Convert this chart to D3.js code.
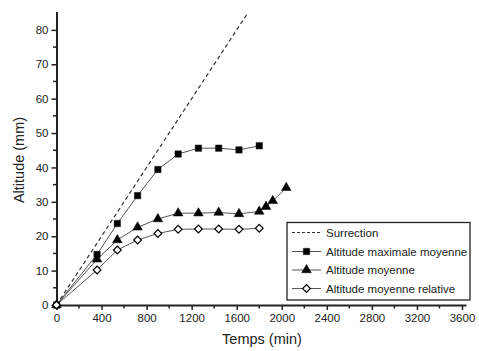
<!DOCTYPE html>
<html><head><meta charset="utf-8">
<script src="https://cdn.jsdelivr.net/npm/d3@7"></script>
<style>body{margin:0;background:#fff}svg{display:block}text{font-family:"Liberation Sans",Arial,sans-serif;fill:#222}</style>
</head><body><svg id="c" width="479" height="351"></svg>
<script>
const surrectionT = [0, 1700];
const surrectionZ = [0, 85];
const maxT = [0, 360, 540, 720, 900, 1080, 1260, 1440, 1620, 1800];
const maxZ = [0, 14.7, 23.7, 31.8, 39.4, 43.9, 45.6, 45.6, 45.1, 46.3];
const moyT = [0, 360, 540, 720, 900, 1080, 1260, 1440, 1620, 1800, 1860, 1920, 2040];
const moyZ = [0, 13.3, 18.9, 22.6, 25.0, 26.7, 26.7, 26.9, 26.5, 27.2, 28.6, 30.3, 34.1];
const relT = [0, 360, 540, 720, 900, 1080, 1260, 1440, 1620, 1800];
const relZ = [0, 10.2, 16.0, 18.9, 20.8, 22.0, 22.1, 22.1, 22.0, 22.3];
const xTicks = [0, 400, 800, 1200, 1600, 2000, 2400, 2800, 3200, 3600];
const yTicks = [0, 10, 20, 30, 40, 50, 60, 70, 80];
const legendLabels = ["Surrection", "Altitude maximale moyenne", "Altitude moyenne", "Altitude moyenne relative"];

const svg = d3.select("#c");
const x = d3.scaleLinear().domain([0, 3640]).range([56.5, 466.5]);
const y = d3.scaleLinear().domain([0, 85.2]).range([305, 12]);

svg.append("defs").append("clipPath").attr("id","clip").append("rect")
  .attr("x", 56).attr("y", 12).attr("width", 411).attr("height", 293);

const xAxis = d3.axisBottom(x).tickValues(xTicks).tickSize(5).tickPadding(4).tickFormat(d3.format("d"));
const yAxis = d3.axisLeft(y).tickValues(yTicks).tickSize(5).tickPadding(3);
const gx = svg.append("g").attr("transform", "translate(0,305)").call(xAxis);
const gy = svg.append("g").attr("transform", "translate(56.5,0)").call(yAxis);
svg.append("g").selectAll("line").data(d3.range(200, 3600, 400)).join("line")
  .attr("x1", d => x(d)).attr("x2", d => x(d)).attr("y1", 305).attr("y2", 308.5)
  .attr("stroke", "#222").attr("stroke-width", 1.5);
svg.append("g").selectAll("line").data(d3.range(5, 85, 10)).join("line")
  .attr("y1", d => y(d)).attr("y2", d => y(d)).attr("x1", 56.5).attr("x2", 53)
  .attr("stroke", "#222").attr("stroke-width", 1.5);
[gx, gy].forEach(a => {
  a.select(".domain").attr("stroke", "#222").attr("stroke-width", 2);
  a.selectAll(".tick line").attr("stroke", "#222").attr("stroke-width", 1.5);
  a.selectAll(".tick text").style("font-size", "11.5px").attr("fill", "#222");
});
gy.select(".domain").attr("d", `M0.5,${y(0)}V12`);
gx.select(".domain").attr("d", `M56.5,0.5H466.5`);

svg.append("text").attr("x", 262).attr("y", 344).attr("text-anchor", "middle")
  .style("font-size", "14.5px").text("Temps (min)");
svg.append("text").attr("transform", "translate(24,160) rotate(-90)").attr("text-anchor", "middle")
  .style("font-size", "14.5px").text("Altitude (mm)");

const plot = svg.append("g").attr("clip-path", "url(#clip)");
const line = d3.line().x(d => x(d[0])).y(d => y(d[1]));

plot.append("path").datum(d3.zip(surrectionT, surrectionZ)).attr("d", line)
  .attr("fill", "none").attr("stroke", "#333").attr("stroke-width", 1.2).attr("stroke-dasharray", "4,3");

const series = [
  {t: maxT, z: maxZ, sym: d3.symbolSquare, size: 40, fill: "#000", rot: 0},
  {t: moyT, z: moyZ, sym: d3.symbolTriangle, size: 40, fill: "#000", rot: 0},
  {t: relT, z: relZ, sym: d3.symbolSquare, size: 30, fill: "#fff", rot: 45}
];
series.forEach(s => {
  svg.append("path").datum(d3.zip(s.t, s.z)).attr("d", line)
    .attr("fill", "none").attr("stroke", "#555").attr("stroke-width", 1);
});
series.forEach(s => {
  svg.append("g").selectAll("path").data(d3.zip(s.t, s.z)).join("path")
    .attr("transform", d => `translate(${x(d[0])},${y(d[1])}) rotate(${s.rot})`)
    .attr("d", d3.symbol().type(s.sym).size(s.size))
    .attr("fill", s.fill).attr("stroke", "#000").attr("stroke-width", s.fill === "#fff" ? 1.2 : 0.5);
});

const lg = svg.append("g");
lg.append("rect").attr("x", 287).attr("y", 222.5).attr("width", 183).attr("height", 77.5)
  .attr("fill", "#fff").attr("stroke", "#222").attr("stroke-width", 1.3);
const ly = [232.5, 251.5, 270, 288.5];
legendLabels.forEach((lab, i) => {
  const l = lg.append("line").attr("x1", 292).attr("x2", 321).attr("y1", ly[i]).attr("y2", ly[i])
    .attr("stroke", i === 0 ? "#333" : "#555").attr("stroke-width", 1);
  if (i === 0) l.attr("stroke-dasharray", "3,2");
  else {
    const s = series[i - 1];
    lg.append("path").attr("transform", `translate(306.5,${ly[i]}) rotate(${s.rot})`)
      .attr("d", d3.symbol().type(s.sym).size(s.size))
      .attr("fill", s.fill).attr("stroke", "#000").attr("stroke-width", s.fill === "#fff" ? 1.2 : 0.5);
  }
  lg.append("text").attr("x", 326).attr("y", ly[i] + 4).style("font-size", "11.5px").text(lab);
});
</script></body></html>
